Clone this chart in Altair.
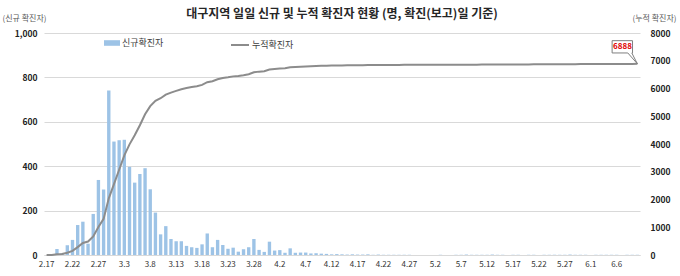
import altair as alt
import pandas as pd

FONT = "Noto Sans CJK KR"

title_text = "대구지역 일일 신규 및 누적 확진자 현황 (명, 확진(보고)일 기준)"
series_names = ["신규확진자", "누적확진자"]
axis_titles = ["(신규 확진자)", "(누적 확진자)"]

dates = pd.date_range("2020-02-17", "2020-06-10", freq="D")
day_labels = [f"{d.month}.{d.day}" for d in dates]

tick_labels = ["2.17", "2.22", "2.27", "3.3", "3.8", "3.13", "3.18", "3.23", "3.28",
               "4.2", "4.7", "4.12", "4.17", "4.22", "4.27", "5.2", "5.7", "5.12",
               "5.17", "5.22", "5.27", "6.1", "6.6"]

# daily new confirmed cases, 2.17 .. 6.10
new_feb = [0, 1, 27, 8, 44, 68, 135, 150, 51, 185, 338, 295, 741]
new_mar = [511, 517, 519, 397, 326, 365, 391, 296, 191, 93, 130, 72, 62, 62, 41, 35,
           32, 48, 97, 35, 68, 45, 28, 33, 15, 26, 35, 72, 23, 14, 60]
new_apr = [20, 22, 10, 30, 10, 11, 11, 7, 8, 6, 5, 3, 4, 3, 2, 3, 2, 2, 3, 1, 2, 1,
           1, 1, 1, 1, 1, 0, 0, 0]
new_may = [0, 0, 1, 0, 0, 1, 1, 2, 1, 1, 1, 1, 2, 1, 1, 0, 1, 1, 0, 1, 1, 0, 1, 1,
           1, 1, 1, 2, 1, 1, 1]
new_jun = [0, 1, 1, 1, 1, 1, 0, 1, 1, 1]
new_cases = new_feb + new_mar + new_apr + new_may + new_jun

df = pd.DataFrame({
    "idx": list(range(len(day_labels))),
    "day": day_labels,
    "new": new_cases,
    "s_new": series_names[0],
    "s_cum": series_names[1],
})
last_idx = len(day_labels) - 1

x_enc = alt.X(
    "day:N", sort=day_labels,
    scale=alt.Scale(paddingInner=0.35, paddingOuter=0.175),
    axis=alt.Axis(values=tick_labels, labelAngle=0, ticks=False, title=None,
                  labelFontSize=8, labelColor="#333333", labelFont=FONT,
                  domainColor="#D9D9D9", labelPadding=5, grid=False,
                  labelOverlap=False, labelFlush=False),
)

bars = alt.Chart(df).mark_bar(color="#9DC3E6").encode(
    x=x_enc,
    y=alt.Y("new:Q", scale=alt.Scale(domain=[0, 1000]),
            axis=alt.Axis(values=[0, 200, 400, 600, 800, 1000], format=",d",
                          ticks=False, domain=False, grid=True, gridColor="#D9D9D9",
                          labelFontSize=8.5, labelFontWeight="bold", labelColor="#222222",
                          labelFont=FONT, labelPadding=7,
                          title=axis_titles[0], titleAngle=0, titleX=-20, titleY=-15,
                          titleAlign="center", titleBaseline="middle", titleFont=FONT,
                          titleFontSize=8, titleFontWeight="normal", titleColor="#595959")),
    color=alt.Color("s_new:N", scale=alt.Scale(range=["#9DC3E6"]),
                    legend=alt.Legend(orient="none", legendX=60, legendY=2, title=None,
                                      symbolType="M-1,-0.35L1,-0.35L1,0.35L-1,0.35Z",
                                      symbolSize=256, symbolStrokeWidth=0,
                                      labelFont=FONT, labelFontSize=9, labelColor="#404040",
                                      labelOffset=2, padding=0)),
)

cum_base = alt.Chart(df).transform_window(
    cum="sum(new)", sort=[alt.SortField("idx")]
)

y_cum_axis = alt.Y("cum:Q", scale=alt.Scale(domain=[0, 8000]),
                   axis=alt.Axis(orient="right", values=list(range(0, 8001, 1000)), format="d",
                                 ticks=False, domain=False, grid=False,
                                 labelFontSize=8.5, labelFontWeight="bold", labelColor="#222222",
                                 labelFont=FONT, labelPadding=10,
                                 title=axis_titles[1], titleAngle=0, titleX=14, titleY=-15,
                                 titleAlign="center", titleBaseline="middle", titleFont=FONT,
                                 titleFontSize=8, titleFontWeight="normal", titleColor="#595959"))

line = cum_base.mark_line(strokeWidth=2).encode(
    x=x_enc,
    y=y_cum_axis,
    color=alt.Color("s_cum:N", scale=alt.Scale(range=["#8C8C8C"]),
                    legend=alt.Legend(orient="none", legendX=186, legendY=2, title=None,
                                      symbolType="stroke", symbolSize=324, symbolStrokeWidth=2,
                                      labelFont=FONT, labelFontSize=9, labelColor="#404040",
                                      labelOffset=2, padding=0)),
)

callout_path = ("M-0.973,-0.892L-0.188,-0.892L-0.188,-0.419L-0.215,-0.419L0,0"
                "L-0.369,-0.419L-0.973,-0.419Z")

callout = cum_base.transform_filter(alt.datum.idx == last_idx).mark_point(
    shape=callout_path, size=2704, filled=True, fill="white", stroke="#7F7F7F",
    strokeWidth=1, opacity=1,
).encode(
    x=x_enc,
    y=alt.Y("cum:Q", scale=alt.Scale(domain=[0, 8000]), axis=None),
)

callout_text = cum_base.transform_filter(alt.datum.idx == last_idx).mark_text(
    dx=-15, dy=-17, fontSize=8, fontWeight="bold", color="#E00000", font=FONT,
    align="center", baseline="middle",
).encode(
    x=x_enc,
    y=alt.Y("cum:Q", scale=alt.Scale(domain=[0, 8000]), axis=None),
    text=alt.Text("cum:Q", format="d"),
)

chart = alt.layer(bars, line, callout, callout_text).resolve_scale(
    y="independent", color="independent"
).properties(
    width=596, height=222,
    padding={"left": 44, "top": 33, "right": 40, "bottom": 21},
    autosize=alt.AutoSizeParams(type="none"),
    title=alt.TitleParams(title_text, font=FONT, fontSize=12, fontWeight="bold",
                          color="#262626", anchor="middle", offset=2, dy=9),
).configure_view(stroke=None)

chart.save("out.html", embed_options={"renderer": "svg", "actions": False})
